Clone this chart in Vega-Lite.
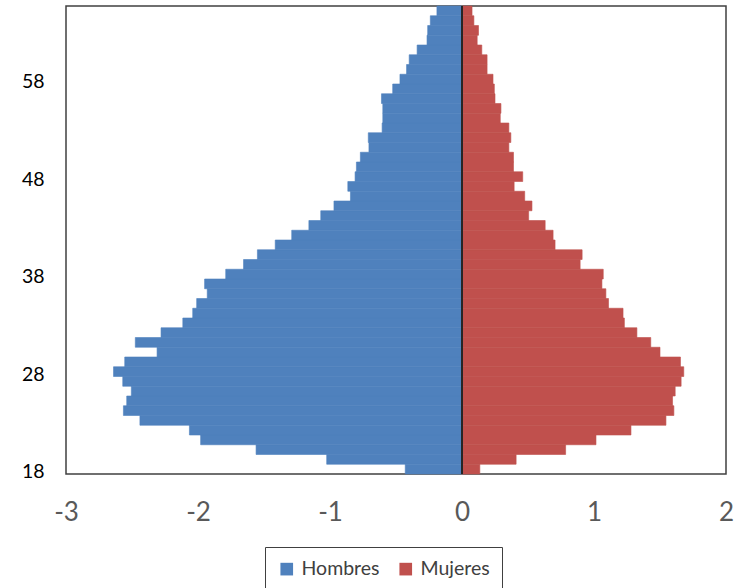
{
  "$schema": "https://vega.github.io/schema/vega-lite/v6.json",
  "width": 660,
  "height": 468,
  "autosize": {"type": "none"},
  "padding": {"left": 66, "top": 6, "right": 19, "bottom": 114},
  "config": {
    "view": {"stroke": "#404040", "strokeWidth": 1.5},
    "font": "Lato"
  },
  "data": {
    "values": [
      {"edad": 18, "sexo": "Hombres", "valor": -0.43},
      {"edad": 19, "sexo": "Hombres", "valor": -1.025},
      {"edad": 20, "sexo": "Hombres", "valor": -1.56},
      {"edad": 21, "sexo": "Hombres", "valor": -1.98},
      {"edad": 22, "sexo": "Hombres", "valor": -2.065},
      {"edad": 23, "sexo": "Hombres", "valor": -2.44},
      {"edad": 24, "sexo": "Hombres", "valor": -2.565},
      {"edad": 25, "sexo": "Hombres", "valor": -2.54},
      {"edad": 26, "sexo": "Hombres", "valor": -2.505},
      {"edad": 27, "sexo": "Hombres", "valor": -2.57},
      {"edad": 28, "sexo": "Hombres", "valor": -2.64},
      {"edad": 29, "sexo": "Hombres", "valor": -2.555},
      {"edad": 30, "sexo": "Hombres", "valor": -2.31},
      {"edad": 31, "sexo": "Hombres", "valor": -2.475},
      {"edad": 32, "sexo": "Hombres", "valor": -2.28},
      {"edad": 33, "sexo": "Hombres", "valor": -2.115},
      {"edad": 34, "sexo": "Hombres", "valor": -2.04},
      {"edad": 35, "sexo": "Hombres", "valor": -2.01},
      {"edad": 36, "sexo": "Hombres", "valor": -1.93},
      {"edad": 37, "sexo": "Hombres", "valor": -1.95},
      {"edad": 38, "sexo": "Hombres", "valor": -1.79},
      {"edad": 39, "sexo": "Hombres", "valor": -1.655},
      {"edad": 40, "sexo": "Hombres", "valor": -1.55},
      {"edad": 41, "sexo": "Hombres", "valor": -1.415},
      {"edad": 42, "sexo": "Hombres", "valor": -1.29},
      {"edad": 43, "sexo": "Hombres", "valor": -1.16},
      {"edad": 44, "sexo": "Hombres", "valor": -1.07},
      {"edad": 45, "sexo": "Hombres", "valor": -0.97},
      {"edad": 46, "sexo": "Hombres", "valor": -0.845},
      {"edad": 47, "sexo": "Hombres", "valor": -0.865},
      {"edad": 48, "sexo": "Hombres", "valor": -0.81},
      {"edad": 49, "sexo": "Hombres", "valor": -0.8},
      {"edad": 50, "sexo": "Hombres", "valor": -0.77},
      {"edad": 51, "sexo": "Hombres", "valor": -0.705},
      {"edad": 52, "sexo": "Hombres", "valor": -0.71},
      {"edad": 53, "sexo": "Hombres", "valor": -0.605},
      {"edad": 54, "sexo": "Hombres", "valor": -0.6},
      {"edad": 55, "sexo": "Hombres", "valor": -0.6},
      {"edad": 56, "sexo": "Hombres", "valor": -0.61},
      {"edad": 57, "sexo": "Hombres", "valor": -0.525},
      {"edad": 58, "sexo": "Hombres", "valor": -0.47},
      {"edad": 59, "sexo": "Hombres", "valor": -0.42},
      {"edad": 60, "sexo": "Hombres", "valor": -0.4},
      {"edad": 61, "sexo": "Hombres", "valor": -0.34},
      {"edad": 62, "sexo": "Hombres", "valor": -0.265},
      {"edad": 63, "sexo": "Hombres", "valor": -0.26},
      {"edad": 64, "sexo": "Hombres", "valor": -0.24},
      {"edad": 65, "sexo": "Hombres", "valor": -0.19},
      {"edad": 18, "sexo": "Mujeres", "valor": 0.135},
      {"edad": 19, "sexo": "Mujeres", "valor": 0.41},
      {"edad": 20, "sexo": "Mujeres", "valor": 0.785},
      {"edad": 21, "sexo": "Mujeres", "valor": 1.015},
      {"edad": 22, "sexo": "Mujeres", "valor": 1.28},
      {"edad": 23, "sexo": "Mujeres", "valor": 1.545},
      {"edad": 24, "sexo": "Mujeres", "valor": 1.605},
      {"edad": 25, "sexo": "Mujeres", "valor": 1.595},
      {"edad": 26, "sexo": "Mujeres", "valor": 1.615},
      {"edad": 27, "sexo": "Mujeres", "valor": 1.66},
      {"edad": 28, "sexo": "Mujeres", "valor": 1.68},
      {"edad": 29, "sexo": "Mujeres", "valor": 1.655},
      {"edad": 30, "sexo": "Mujeres", "valor": 1.5},
      {"edad": 31, "sexo": "Mujeres", "valor": 1.43},
      {"edad": 32, "sexo": "Mujeres", "valor": 1.325},
      {"edad": 33, "sexo": "Mujeres", "valor": 1.23},
      {"edad": 34, "sexo": "Mujeres", "valor": 1.22},
      {"edad": 35, "sexo": "Mujeres", "valor": 1.11},
      {"edad": 36, "sexo": "Mujeres", "valor": 1.09},
      {"edad": 37, "sexo": "Mujeres", "valor": 1.06},
      {"edad": 38, "sexo": "Mujeres", "valor": 1.07},
      {"edad": 39, "sexo": "Mujeres", "valor": 0.895},
      {"edad": 40, "sexo": "Mujeres", "valor": 0.91},
      {"edad": 41, "sexo": "Mujeres", "valor": 0.705},
      {"edad": 42, "sexo": "Mujeres", "valor": 0.69},
      {"edad": 43, "sexo": "Mujeres", "valor": 0.63},
      {"edad": 44, "sexo": "Mujeres", "valor": 0.505},
      {"edad": 45, "sexo": "Mujeres", "valor": 0.53},
      {"edad": 46, "sexo": "Mujeres", "valor": 0.475},
      {"edad": 47, "sexo": "Mujeres", "valor": 0.395},
      {"edad": 48, "sexo": "Mujeres", "valor": 0.46},
      {"edad": 49, "sexo": "Mujeres", "valor": 0.39},
      {"edad": 50, "sexo": "Mujeres", "valor": 0.39},
      {"edad": 51, "sexo": "Mujeres", "valor": 0.355},
      {"edad": 52, "sexo": "Mujeres", "valor": 0.37},
      {"edad": 53, "sexo": "Mujeres", "valor": 0.355},
      {"edad": 54, "sexo": "Mujeres", "valor": 0.29},
      {"edad": 55, "sexo": "Mujeres", "valor": 0.295},
      {"edad": 56, "sexo": "Mujeres", "valor": 0.25},
      {"edad": 57, "sexo": "Mujeres", "valor": 0.245},
      {"edad": 58, "sexo": "Mujeres", "valor": 0.235},
      {"edad": 59, "sexo": "Mujeres", "valor": 0.19},
      {"edad": 60, "sexo": "Mujeres", "valor": 0.19},
      {"edad": 61, "sexo": "Mujeres", "valor": 0.15},
      {"edad": 62, "sexo": "Mujeres", "valor": 0.115},
      {"edad": 63, "sexo": "Mujeres", "valor": 0.125},
      {"edad": 64, "sexo": "Mujeres", "valor": 0.09},
      {"edad": 65, "sexo": "Mujeres", "valor": 0.076}
    ]
  },
  "layer": [
    {
      "mark": {"type": "bar", "strokeWidth": 0.6},
      "encoding": {
        "y": {
          "field": "edad",
          "type": "ordinal",
          "sort": "descending",
          "scale": {"paddingInner": 0, "paddingOuter": 0},
          "axis": {
            "title": null,
            "values": [18, 28, 38, 48, 58],
            "domain": false,
            "ticks": false,
            "labelFontSize": 19.5,
            "labelColor": "#000000",
            "labelPadding": 22,
            "labelOffset": 3,
            "labelAngle": 0
          }
        },
        "x": {
          "field": "valor",
          "type": "quantitative",
          "scale": {"domain": [-3, 2], "nice": false, "zero": false},
          "axis": {
            "title": null,
            "values": [-3, -2, -1, 0, 1, 2],
            "labelExpr": "toString(datum.value)",
            "domain": false,
            "ticks": false,
            "grid": false,
            "labelFontSize": 26,
            "labelColor": "#595959",
            "labelPadding": 25,
            "labelFlush": false
          }
        },
        "color": {
          "field": "sexo",
          "type": "nominal",
          "scale": {"domain": ["Hombres", "Mujeres"], "range": ["#4F81BD", "#C0504D"]},
          "legend": {
            "title": null,
            "orient": "none",
            "legendX": 199,
            "legendY": 541,
            "direction": "horizontal",
            "symbolType": "square",
            "symbolSize": 160,
            "symbolStrokeWidth": 0,
            "labelFontSize": 19.5,
            "labelColor": "#404040",
            "labelOffset": 5,
            "columnPadding": 16,
            "strokeColor": "#404040",
            "padding": 12
          }
        },
        "stroke": {
          "field": "sexo",
          "type": "nominal",
          "scale": {"domain": ["Hombres", "Mujeres"], "range": ["#4F81BD", "#C0504D"]},
          "legend": null
        }
      }
    },
    {
      "mark": {"type": "rule", "color": "#262626", "strokeWidth": 2},
      "encoding": {
        "x": {"datum": 0}
      }
    }
  ]
}
